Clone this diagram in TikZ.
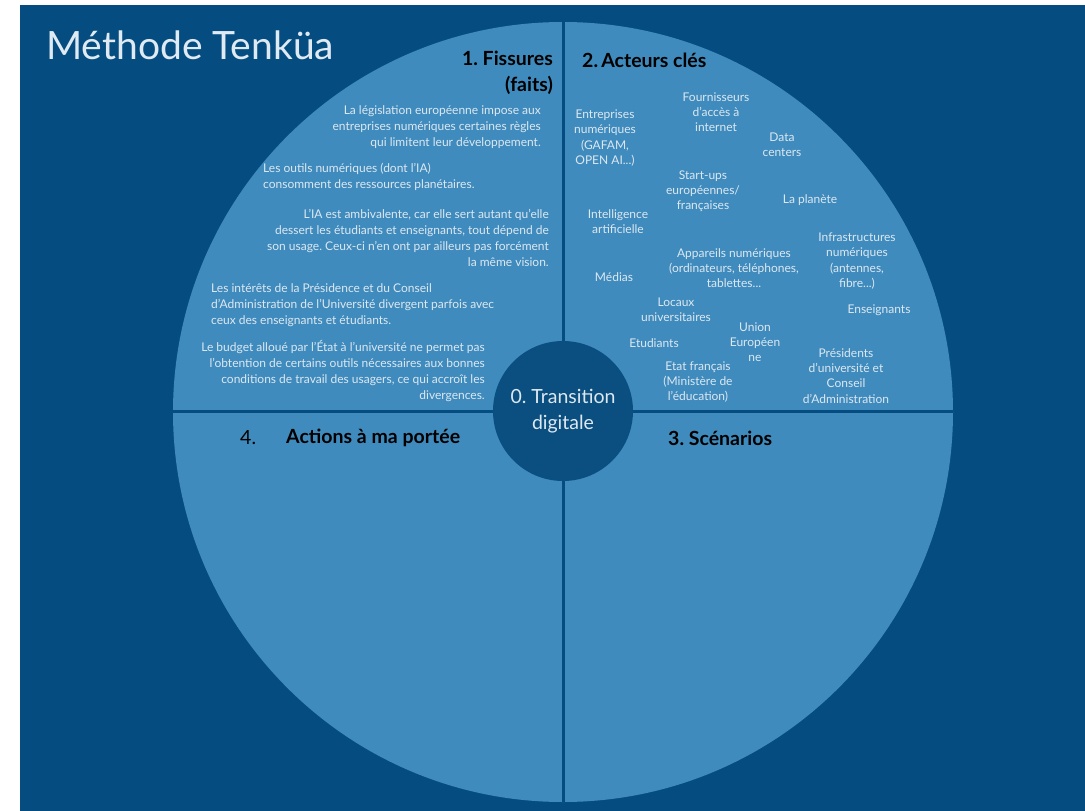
\documentclass[tikz,border=0pt]{standalone}
\usepackage{fontspec}
\setmainfont{Lato}
\usepackage{xcolor}
\usetikzlibrary{positioning}
\frenchspacing

\definecolor{fond}{HTML}{054D80}
\definecolor{disque}{HTML}{3F8BBD}
\definecolor{centre}{HTML}{0A4F80}
\definecolor{clair}{HTML}{DDE8F1}

\tikzset{
    titre/.style={inner sep=0pt, font=\bfseries\fontsize{19.5}{24}\selectfont, text=black},
    fait/.style={inner sep=0pt, font=\fontsize{12}{15.7}\selectfont, text=clair},
    acteur/.style={inner sep=0pt, align=center, font=\fontsize{12}{15.2}\selectfont, text=clair},
    separation/.style={draw=fond, line width=3pt}
}

\begin{document}
\begin{tikzpicture}[x=1pt,y=-1pt]
    \useasboundingbox (0,0) rectangle (1085,811);
    \fill[white] (0,0) rectangle (1085,811);
    \fill[fond] (20,5) rectangle (1085,811);

    % Disque principal
    \fill[disque] (563,412) circle (390);
    \begin{scope}
        \clip (563,412) circle (390);
        \draw[separation] (563,0) -- (563,811);
        \draw[separation] (150,411) -- (980,411);
    \end{scope}

    % Titre
    \node[anchor=west, inner sep=0pt, text=clair!90!white, font=\fontsize{39}{44}\selectfont] (methode) at (46,45) {Méthode Tenküa};

    % Quartiers
    \node[titre, anchor=east] (fissures) at (553,58) {1. Fissures};
    \node[titre, anchor=east] (faits) at (553,85) {(faits)};
    \node[titre, anchor=west] (acteurs) at (582,60) {2.\,Acteurs clés};
    \node[titre, anchor=west, font=\fontsize{19.5}{24}\selectfont] (quatre) at (240,438) {4.};
    \node[titre, anchor=west] (actions) at (286,438) {Actions à ma portée};
    \node[titre, anchor=west] (scenarios) at (668,438) {3. Scénarios};

    % 1. Fissures
    \node[fait, anchor=east, align=right] (legislation) at (541,127) {La législation européenne impose aux\\entreprises numériques certaines règles\\qui limitent leur développement.};
    \node[fait, anchor=west, align=left] (outils) at (263,177) {Les outils numériques (dont l’IA)\\consomment des ressources planétaires.};
    \node[fait, anchor=east, align=right] (ambivalente) at (549,238) {L’IA est ambivalente, car elle sert autant qu’elle\\dessert les étudiants et enseignants, tout dépend de\\son usage. Ceux-ci n’en ont par ailleurs pas forcément\\la même vision.};
    \node[fait, anchor=west, align=left] (interets) at (211,305) {Les intérêts de la Présidence et du Conseil\\d’Administration de l’Université divergent parfois avec\\ceux des enseignants et étudiants.};
    \node[fait, anchor=east, align=right] (budget) at (485,371) {Le budget alloué par l’État à l’université ne permet pas\\l’obtention de certains outils nécessaires aux bonnes\\conditions de travail des usagers, ce qui accroît les\\divergences.};

    % 2. Acteurs clés
    \node[acteur] (entreprises) at (605,138) {Entreprises\\numériques\\(GAFAM,\\OPEN AI...)};
    \node[acteur] (fournisseurs) at (716,112) {Fournisseurs\\d’accès à\\internet};
    \node[acteur] (datacenters) at (782,145) {Data\\centers};
    \node[acteur] (startups) at (703,191) {Start-ups\\européennes/\\françaises};
    \node[acteur] (planete) at (810,200) {La planète};
    \node[acteur] (ia) at (618,222) {Intelligence\\artificielle};
    \node[acteur] (appareils) at (734,268) {Appareils numériques\\(ordinateurs, téléphones,\\tablettes...};
    \node[acteur] (infrastructures) at (857,261) {Infrastructures\\numériques\\(antennes,\\fibre...)};
    \node[acteur] (medias) at (614,277) {Médias};
    \node[acteur] (locaux) at (676,310) {Locaux\\universitaires};
    \node[acteur] (enseignants) at (879,310) {Enseignants};
    \node[acteur] (union) at (755,342) {Union\\Européen\\ne};
    \node[acteur] (etudiants) at (654,343) {Etudiants};
    \node[acteur] (presidents) at (846,376) {Présidents\\d’université et\\Conseil\\d’Administration};
    \node[acteur] (etat) at (698,382) {Etat français\\(Ministère de\\l’éducation)};

    % 0. Centre
    \node[circle, fill=centre, minimum size=140pt, inner sep=0pt] (transition) at (563,411) {};
    \node[align=center, text=clair, font=\fontsize{19.5}{26}\selectfont, inner sep=0pt] (digitale) at (transition) {0. Transition\\digitale};
\end{tikzpicture}
\end{document}
